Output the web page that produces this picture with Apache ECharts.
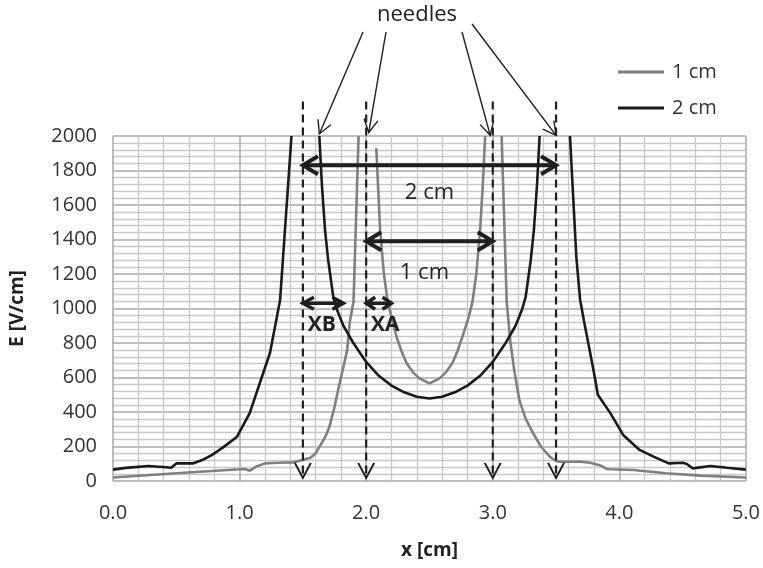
<!DOCTYPE html>
<html>
	<head>
		<meta charset="UTF-8">
		<title>E field between needles</title>
		<script src="https://cdn.jsdelivr.net/npm/echarts@6/dist/echarts.min.js"></script>
		<style>html,body,#container{width:100%;height:100%;margin:0;padding:0;background:#fff;}</style>
	</head>
	<body>
		<div id="container"></div>
		<script>
// 1 cm needle spacing (grey curve), null = gap at the needle
var x1cm = [0, 0.5, 1.0, 1.04, 1.08, 1.13, 1.2, 1.3, 1.42, 1.49, 1.56, 1.6, 1.64, 1.68, 1.71, 1.75, 1.79, 1.82, 1.85, 1.87, 1.9, 1.94, 2.0,
	2.08, 2.11, 2.14, 2.17, 2.2, 2.24, 2.28, 2.32, 2.37, 2.42, 2.5, 2.58, 2.63, 2.68, 2.72, 2.76, 2.81, 2.84, 2.87, 2.9, 2.92, 2.94, 3.0,
	3.07, 3.11, 3.14, 3.17, 3.21, 3.26, 3.32, 3.38, 3.45, 3.5, 3.53, 3.69, 3.77, 3.85, 3.9, 3.93, 4.11, 4.37, 4.64, 5.0];
var e1cm = [20, 45, 68, 70, 60, 83, 102, 106, 108, 120, 135, 160, 209, 260, 315, 430, 566, 660, 760, 920, 1040, 2000, null,
	1930, 1455, 1200, 1040, 950, 836, 750, 682, 630, 595, 566, 595, 630, 682, 750, 836, 950, 1040, 1200, 1455, 1700, 2000, null,
	2000, 1040, 800, 640, 470, 360, 276, 200, 141, 116, 112, 112, 106, 90, 70, 68, 64, 45, 31, 20];

// 2 cm needle spacing (black curve)
var x2cm = [0, 0.1, 0.28, 0.42, 0.46, 0.5, 0.63, 0.7, 0.78, 0.87, 0.98, 1.08, 1.12, 1.16, 1.2, 1.24, 1.29, 1.32, 1.41, 1.5,
	1.63, 1.65, 1.675, 1.7, 1.74, 1.77, 1.82, 1.9, 2.0, 2.1, 2.2, 2.3, 2.4, 2.5, 2.6, 2.7, 2.8, 2.9, 3.0, 3.1, 3.18, 3.23, 3.26, 3.3, 3.325, 3.35, 3.37, 3.5,
	3.61, 3.66, 3.69, 3.72, 3.77, 3.81, 3.83, 3.93, 4.03, 4.16, 4.27, 4.39, 4.5, 4.53, 4.58, 4.72, 4.85, 5.0];
var e2cm = [66, 76, 87, 80, 77, 102, 102, 120, 150, 195, 257, 394, 480, 568, 655, 742, 933, 1049, 2000, null,
	2000, 1720, 1455, 1280, 1068, 991, 900, 798, 690, 610, 553, 514, 488, 478, 488, 514, 553, 610, 690, 798, 900, 991, 1068, 1280, 1455, 1720, 2000, null,
	2000, 1300, 1050, 930, 740, 585, 500, 392, 267, 180, 141, 102, 106, 100, 73, 87, 77, 66];

var needleX = [1.5, 2.0, 3.0, 3.5];
var xTicks = ['0.0', '1.0', '2.0', '3.0', '4.0', '5.0'];

function pairs(xs, ys) {
	return xs.map(function (x, i) { return [x, ys[i]]; });
}

var FONT = '"Open Sans", sans-serif';
var myChart = echarts.init(document.getElementById('container'));

myChart.setOption({
	animation: false,
	backgroundColor: '#fff',
	grid: { left: 113, right: 17, top: 136, bottom: 87 },
	legend: {
		orient: 'vertical',
		left: 618, top: 61, padding: 0,
		itemWidth: 46, itemHeight: 3, itemGap: 14,
		icon: 'rect',
		textStyle: { fontFamily: FONT, fontSize: 20, lineHeight: 22, color: '#333', padding: [0, 0, 0, 3] },
		data: [
			{ name: '1 cm', itemStyle: { color: '#7f7f7f' } },
			{ name: '2 cm', itemStyle: { color: '#1a1a1a' } }
		]
	},
	xAxis: {
		type: 'value', min: 0, max: 5, interval: 1,
		name: 'x [cm]', nameLocation: 'middle', nameGap: 60,
		nameTextStyle: { fontFamily: FONT, fontSize: 19, fontWeight: 'bold', color: '#222' },
		axisLine: { show: false }, axisTick: { show: false },
		axisLabel: { margin: 22, fontFamily: FONT, fontSize: 20, color: '#333',
			formatter: function (v) { return xTicks[Math.round(v)]; } },
		splitLine: { lineStyle: { color: '#a8a8a8', width: 1.5 } },
		minorTick: { show: false, splitNumber: 5 },
		minorSplitLine: { show: true, lineStyle: { color: '#c8c8c8', width: 1.3 } }
	},
	yAxis: {
		type: 'value', min: 0, max: 2000, interval: 200,
		name: 'E [V/cm]', nameLocation: 'middle', nameGap: 86, nameRotate: 90,
		nameTextStyle: { fontFamily: FONT, fontSize: 19, fontWeight: 'bold', color: '#222' },
		axisLine: { show: false }, axisTick: { show: false },
		axisLabel: { margin: 16, fontFamily: FONT, fontSize: 20, color: '#333',
			formatter: function (v) { return String(v); } },
		splitLine: { lineStyle: { color: '#a8a8a8', width: 1.5 } },
		minorTick: { show: false, splitNumber: 5 },
		minorSplitLine: { show: true, lineStyle: { color: '#c8c8c8', width: 1.3 } }
	},
	series: [
		{ name: '1 cm', type: 'line', data: pairs(x1cm, e1cm), showSymbol: false, connectNulls: false,
			lineStyle: { color: '#7f7f7f', width: 2.6 }, itemStyle: { color: '#7f7f7f' } },
		{ name: '2 cm', type: 'line', data: pairs(x2cm, e2cm), showSymbol: false, connectNulls: false,
			lineStyle: { color: '#1a1a1a', width: 2.6 }, itemStyle: { color: '#1a1a1a' } }
	]
});

// annotations drawn on top, placed through the grid's own scale
function P(x, y) { return myChart.convertToPixel({ gridIndex: 0 }, [x, y]); }

var els = [];
var INK = '#1f1f1f';

function seg(a, b, w, dash) {
	els.push({ type: 'line', z: 100, shape: { x1: a[0], y1: a[1], x2: b[0], y2: b[1] },
		style: { stroke: INK, lineWidth: w, lineDash: dash || null, lineCap: 'butt' } });
}
// open chevron head at tip, pointing away from "from"
function head(from, tip, len, half, w) {
	var dx = tip[0] - from[0], dy = tip[1] - from[1];
	var d = Math.sqrt(dx * dx + dy * dy); dx /= d; dy /= d;
	var bx = tip[0] - dx * len, by = tip[1] - dy * len;
	els.push({ type: 'polyline', z: 100,
		shape: { points: [[bx - dy * half, by + dx * half], tip, [bx + dy * half, by - dx * half]] },
		style: { stroke: INK, fill: null, lineWidth: w, lineJoin: 'miter' } });
}
function label(txt, p, size, bold) {
	els.push({ type: 'text', z: 101, x: p[0], y: p[1],
		style: { text: txt, fill: '#222', fontSize: size, fontFamily: FONT, fontWeight: bold ? 'bold' : 'normal',
			align: 'center', verticalAlign: 'middle', textAlign: 'center', textVerticalAlign: 'middle' } });
}

// dashed needle lines with open arrowheads at the bottom
needleX.forEach(function (x) {
	var top = P(x, 2200), bot = P(x, 18);
	seg(top, bot, 2.2, [8, 5]);
	head(top, bot, 15, 8, 2);
});

// "needles" callout
label('needles', [417, 15], 22, false);
var needleTips = [[1.63, 2012], [2.02, 2020], [2.98, 2004], [3.5, 2004]];
var needleFrom = [[363, 32], [386, 32], [462, 32], [472, 24]];
needleTips.forEach(function (t, i) {
	var tip = P(t[0], t[1]);
	seg(needleFrom[i], tip, 1.4);
	head(needleFrom[i], tip, 13, 7, 1.4);
});

// double headed span arrows
function span(x0, x1, y, len, half, w) {
	var a = P(x0, y), b = P(x1, y);
	seg([a[0] + 2, a[1]], [b[0] - 2, b[1]], w);
	head(b, a, len, half, w);
	head(a, b, len, half, w);
}
span(1.5, 3.5, 1830, 15, 9, 4);
span(2.0, 3.0, 1390, 15, 9, 4);
span(1.5, 1.82, 1030, 11, 6, 3.5);
span(2.0, 2.2, 1030, 9, 6, 3.5);

label('2 cm', P(2.5, 1670), 22, false);
label('1 cm', P(2.46, 1206), 22, false);
label('XB', P(1.65, 904), 21, true);
label('XA', P(2.15, 904), 21, true);

myChart.setOption({ graphic: { elements: els } });

window.onresize = function () { myChart.resize(); };
		</script>
	</body>
</html>
